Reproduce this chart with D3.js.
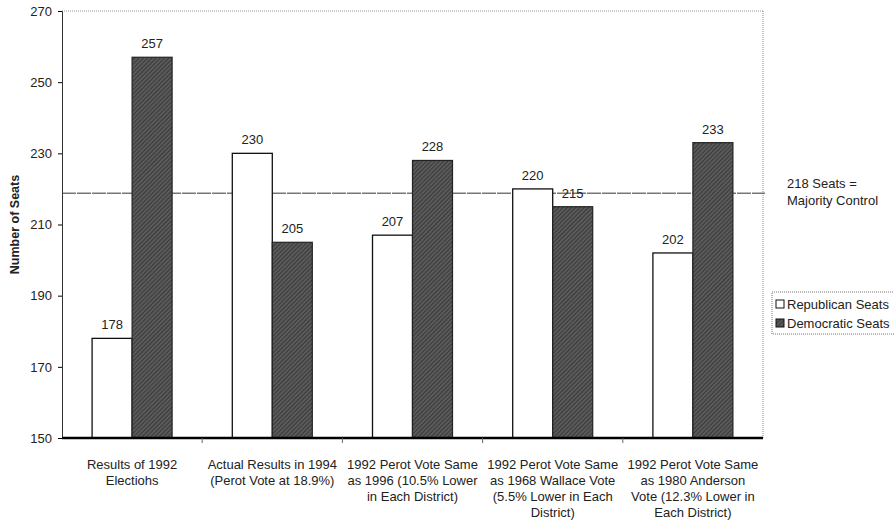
<!DOCTYPE html>
<html>
<head>
<meta charset="utf-8">
<script src="https://cdn.jsdelivr.net/npm/d3@7"></script>
<style>
  body { margin: 0; background: #fff; }
  svg { font-family: Arial, "Liberation Sans", sans-serif; }
</style>
</head>
<body>
<script>
// data
var categories = [
    ["Results of 1992", "Electiohs"],
    ["Actual Results in 1994", "(Perot Vote at 18.9%)"],
    ["1992 Perot Vote Same", "as 1996 (10.5% Lower", "in Each District)"],
    ["1992 Perot Vote Same", "as 1968 Wallace Vote", "(5.5% Lower in Each", "District)"],
    ["1992 Perot Vote Same", "as 1980 Anderson", "Vote (12.3% Lower in", "Each District)"]
];
var republican = [178, 230, 207, 220, 202];
var democratic = [257, 205, 228, 215, 233];
var seriesNames = ["Republican Seats", "Democratic Seats"];
var yTicks = [150, 170, 190, 210, 230, 250, 270];
var majority = 218.8;
var majorityLabel = ["218 Seats =", "Majority Control"];

var margin = {top: 11, right: 131, bottom: 85, left: 62},
    width = 894 - margin.left - margin.right,
    height = 523 - margin.top - margin.bottom;

var svg = d3.select("body").append("svg")
    .attr("width", 894)
    .attr("height", 523);

// hatched texture for the dark bars
var defs = svg.append("defs");
var pat = defs.append("pattern")
    .attr("id", "dark")
    .attr("patternUnits", "userSpaceOnUse")
    .attr("width", 3).attr("height", 3)
    .attr("patternTransform", "rotate(45)");
pat.append("rect").attr("width", 3).attr("height", 3).attr("fill", "#5a5a5a");
pat.append("rect").attr("width", 1).attr("height", 3).attr("fill", "#3a3a3a");

var g = svg.append("g")
    .attr("transform", "translate(" + margin.left + "," + margin.top + ")");

var x = d3.scaleBand().domain(d3.range(categories.length)).range([0, width]);
var xs = d3.scaleBand().domain([0, 1]).range([0, 80]);
var y = d3.scaleLinear().domain([150, 270]).range([height, 0]);

// plot frame (dotted top and right)
g.append("line")
    .attr("x1", 0).attr("x2", width).attr("y1", 0).attr("y2", 0)
    .attr("stroke", "#999").attr("stroke-dasharray", "1,1");
g.append("line")
    .attr("x1", width).attr("x2", width).attr("y1", 0).attr("y2", height)
    .attr("stroke", "#888").attr("stroke-dasharray", "1,1");

// majority line
g.append("line")
    .attr("x1", 0).attr("x2", width + 2)
    .attr("y1", y(majority)).attr("y2", y(majority))
    .attr("stroke", "#333").attr("stroke-width", 1)
    .attr("stroke-dasharray", "14,1");

var groups = g.selectAll(".grp")
    .data(categories)
    .enter().append("g")
    .attr("class", "grp")
    .attr("transform", function(d, i) {
        return "translate(" + (x(i) + x.bandwidth() / 2 - 40) + ",0)";
    });

groups.append("rect")
    .attr("x", xs(0))
    .attr("width", xs.bandwidth())
    .attr("y", function(d, i) { return y(republican[i]); })
    .attr("height", function(d, i) { return height - y(republican[i]); })
    .attr("fill", "#fff")
    .attr("stroke", "#111")
    .attr("stroke-width", 1.3);

groups.append("rect")
    .attr("x", xs(1))
    .attr("width", xs.bandwidth())
    .attr("y", function(d, i) { return y(democratic[i]); })
    .attr("height", function(d, i) { return height - y(democratic[i]); })
    .attr("fill", "url(#dark)")
    .attr("stroke", "#222")
    .attr("stroke-width", 1.2);

// value labels
groups.append("text")
    .attr("x", xs(0) + xs.bandwidth() / 2)
    .attr("y", function(d, i) { return y(republican[i]) - 9; })
    .attr("text-anchor", "middle")
    .style("font-size", "13px")
    .attr("fill", "#222")
    .text(function(d, i) { return republican[i]; });

groups.append("text")
    .attr("x", xs(1) + xs.bandwidth() / 2)
    .attr("y", function(d, i) { return y(democratic[i]) - 9; })
    .attr("text-anchor", "middle")
    .style("font-size", "13px")
    .attr("fill", "#222")
    .text(function(d, i) { return democratic[i]; });

// Y axis
var yAxis = g.append("g")
    .call(d3.axisLeft(y).tickValues(yTicks).tickSize(4).tickPadding(6));
yAxis.select(".domain").attr("stroke", "#333");
yAxis.selectAll("text").style("font-size", "13px").attr("fill", "#222");

// X axis
var xAxis = g.append("g")
    .attr("transform", "translate(0," + height + ")");
xAxis.append("line")
    .attr("x1", 0).attr("x2", width)
    .attr("stroke", "#000").attr("stroke-width", 2.5);
xAxis.selectAll(".tk")
    .data(d3.range(1, categories.length))
    .enter().append("line")
    .attr("x1", function(d) { return x(d); })
    .attr("x2", function(d) { return x(d); })
    .attr("y1", 0).attr("y2", 5)
    .attr("stroke", "#666");

var labels = xAxis.selectAll(".cat")
    .data(categories)
    .enter().append("text")
    .attr("text-anchor", "middle")
    .style("font-size", "13px")
    .attr("fill", "#222")
    .attr("transform", function(d, i) {
        return "translate(" + (x(i) + x.bandwidth() / 2) + ",31)";
    });
labels.selectAll("tspan")
    .data(function(d) { return d; })
    .enter().append("tspan")
    .attr("x", 0)
    .attr("dy", function(d, j) { return j === 0 ? 0 : 16; })
    .text(function(d) { return d; });

// text label for the y axis
svg.append("text")
    .attr("transform", "rotate(-90)")
    .attr("x", -(margin.top + height / 2))
    .attr("y", 19)
    .style("text-anchor", "middle")
    .style("font-size", "12.5px")
    .style("font-weight", "bold")
    .attr("fill", "#222")
    .text("Number of Seats");

// majority label
svg.append("text")
    .attr("x", 787)
    .attr("y", 188)
    .style("font-size", "13px")
    .attr("fill", "#222")
    .selectAll("tspan")
    .data(majorityLabel)
    .enter().append("tspan")
    .attr("x", 787)
    .attr("dy", function(d, j) { return j === 0 ? 0 : 17; })
    .text(function(d) { return d; });

// legend
var legend = svg.append("g").attr("transform", "translate(772,292)");
legend.append("rect")
    .attr("x", 0).attr("y", 0)
    .attr("width", 130).attr("height", 42)
    .attr("fill", "none")
    .attr("stroke", "#777")
    .attr("stroke-dasharray", "1,1");
var li = legend.selectAll(".li")
    .data(seriesNames)
    .enter().append("g")
    .attr("transform", function(d, i) { return "translate(4," + (8 + i * 19) + ")"; });
li.append("rect")
    .attr("width", 8).attr("height", 8)
    .attr("fill", function(d, i) { return i === 0 ? "#fff" : "url(#dark)"; })
    .attr("stroke", "#111");
li.append("text")
    .attr("x", 11)
    .attr("y", 9)
    .style("font-size", "13px")
    .attr("fill", "#222")
    .text(function(d) { return d; });
</script>
</body>
</html>
